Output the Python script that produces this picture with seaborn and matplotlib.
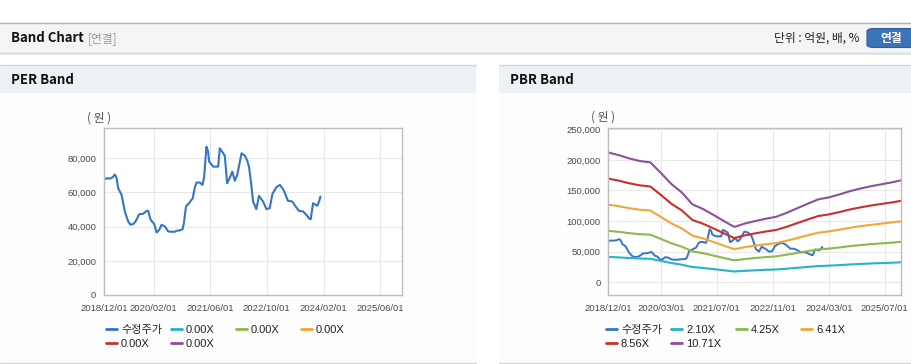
import matplotlib
matplotlib.use("Agg")
import matplotlib.pyplot as plt
import matplotlib.dates as mdates
from matplotlib.patches import Rectangle, FancyBboxPatch
from matplotlib.lines import Line2D
from matplotlib.ticker import FuncFormatter
import pandas as pd
import seaborn as sns

# ---------------- data ----------------
price_dates = [
    "2018-12-01", "2018-12-29", "2019-01-21", "2019-02-14", "2019-03-04", "2019-03-18",
    "2019-04-02", "2019-05-01", "2019-05-29", "2019-06-27", "2019-07-17", "2019-08-09",
    "2019-08-29", "2019-09-30", "2019-11-04", "2019-12-02", "2019-12-16", "2020-01-06",
    "2020-02-04", "2020-02-27", "2020-03-20", "2020-04-09", "2020-05-08", "2020-06-05",
    "2020-07-04", "2020-08-02", "2020-08-16", "2020-09-14", "2020-10-07", "2020-10-18",
    "2020-11-05", "2020-12-01", "2021-01-02", "2021-01-22", "2021-02-05", "2021-03-04",
    "2021-03-27", "2021-04-10", "2021-04-30", "2021-05-14", "2021-05-23", "2021-06-27",
    "2021-08-09", "2021-08-23", "2021-09-12", "2021-10-05", "2021-10-25", "2021-11-18",
    "2021-12-08", "2021-12-31", "2022-01-20", "2022-02-06", "2022-02-26", "2022-03-25",
    "2022-04-14", "2022-05-01", "2022-05-21", "2022-06-05", "2022-07-03", "2022-07-26",
    "2022-08-30", "2022-09-28", "2022-10-26", "2022-11-19", "2022-12-23", "2023-01-21",
    "2023-02-19", "2023-03-12", "2023-04-01", "2023-05-08", "2023-06-06", "2023-07-05",
    "2023-08-09", "2023-09-07", "2023-10-05", "2023-10-14", "2023-11-03", "2023-11-26",
    "2023-12-08", "2023-12-25", "2024-01-05",
]
price_values = [
    67700, 68300, 68100, 68900, 70500, 68900,
    62500, 58600, 48900, 43000, 41100, 41500,
    43000, 47300, 47500, 49200, 49200, 44000,
    41700, 36600, 38100, 41100, 40100, 37200,
    37000, 37000, 37600, 37800, 38500, 42000,
    51800, 53700, 56600, 63500, 65800, 65800,
    64400, 68900, 86800, 83900, 78100, 75100,
    75100, 85800, 83900, 81400, 65400, 68700,
    72200, 66800, 70300, 76100, 82900, 81600,
    79000, 75100, 64400, 54700, 50200, 58000,
    54700, 50200, 50800, 59200, 63100, 64400,
    61900, 58600, 55100, 54700, 51800, 49200,
    48900, 46900, 44400, 44400, 53700, 52700,
    52200, 54700, 57600,
]

band_dates = [
    "2018-12-01", "2019-03-01", "2019-06-01", "2019-09-01", "2019-12-01", "2020-03-01",
    "2020-06-01", "2020-09-01", "2020-12-01", "2021-03-01", "2021-06-01", "2021-09-01",
    "2021-12-01", "2022-03-01", "2022-06-01", "2022-09-01", "2022-12-01", "2023-03-01",
    "2023-06-01", "2023-09-01", "2023-12-01", "2024-03-01", "2024-06-01", "2024-09-01",
    "2024-12-01", "2025-03-01", "2025-06-01", "2025-09-01", "2025-12-01",
]
band_2_10 = [41600, 40700, 39700, 38900, 38400, 35100, 31500, 28800, 25000, 23500,
             21600, 19600, 17700, 18800, 19600, 20400, 21000, 22300, 23700, 25200,
             26600, 27200, 28100, 29200, 30000, 30800, 31400, 32000, 32800]
band_4_25 = [84200, 82500, 80300, 78600, 77800, 71000, 63800, 58200, 50600, 47600,
             43800, 39700, 35900, 38000, 39700, 41200, 42500, 45100, 48000, 51000,
             53800, 55000, 57000, 59100, 60800, 62300, 63500, 64800, 66300]
band_6_41 = [126900, 124400, 121100, 118600, 117300, 107000, 96200, 87800, 76300, 71800,
             66000, 59900, 54200, 57400, 59900, 62200, 64100, 67900, 72400, 76900,
             81100, 83000, 85900, 89100, 91700, 93900, 95800, 97800, 100000]
band_8_56 = [169500, 166100, 161800, 158400, 156600, 143000, 128400, 117300, 101900, 95900,
             88200, 80000, 72300, 76600, 80000, 83000, 85600, 90700, 96700, 102700,
             108300, 110900, 114700, 119000, 122400, 125400, 128000, 130500, 133500]
band_10_71 = [212100, 207800, 202400, 198100, 196000, 178900, 160700, 146700, 127400, 120000,
              110300, 100100, 90500, 95900, 100100, 103900, 107100, 113500, 121000, 128500,
              135500, 138700, 143500, 148900, 153200, 156900, 160100, 163300, 167100]

price_label = "수정주가"
per_band_labels = ["0.00X", "0.00X", "0.00X", "0.00X", "0.00X"]
pbr_band_labels = ["2.10X", "4.25X", "6.41X", "8.56X", "10.71X"]

per_xticks = ["2018-12-01", "2020-02-01", "2021-06-01", "2022-10-01", "2024-02-01", "2025-06-01"]
pbr_xticks = ["2018-12-01", "2020-03-01", "2021-07-01", "2022-11-01", "2024-03-01", "2025-07-01"]
per_yticks = [0, 20000, 40000, 60000, 80000]
pbr_yticks = [0, 50000, 100000, 150000, 200000, 250000]

# ---------------- style ----------------
price_color = "#3574c6"
band_colors = ["#22b4c8", "#8cb84c", "#f2a637", "#c9302c", "#8e4f9d"]

sns.set_style("white")
plt.rcParams["font.family"] = ["Liberation Sans", "Noto Sans CJK KR", "DejaVu Sans"]

W, H = 912, 364
fig = plt.figure(figsize=(W / 100, H / 100), dpi=100)
fig.patch.set_facecolor("white")


def fx(px):
    return px / W


def fy(py):
    return 1 - py / H


def rect(x0, y0, x1, y1, color, z=-5):
    fig.patches.append(Rectangle((fx(x0), fy(y1)), (x1 - x0) / W, (y1 - y0) / H,
                                 transform=fig.transFigure, facecolor=color,
                                 edgecolor="none", zorder=z))


def hline(x0, x1, y, color, lw=1.0):
    fig.lines.append(Line2D([fx(x0), fx(x1)], [fy(y), fy(y)], transform=fig.transFigure,
                            color=color, lw=lw, zorder=-4))


# header bar
rect(0, 22.5, W, 52.5, "#f4f4f4")
hline(0, W, 22.5, "#b4b4b4")
hline(0, W, 52.8, "#c4c4c4")
hline(0, W, 54.0, "#e4e4e4", lw=1.2)

fig.text(fx(11), fy(38), "Band Chart", fontsize=9.5, fontweight="bold",
         family=["Noto Sans CJK KR"], color="#111111", va="center", ha="left")
fig.text(fx(88), fy(38.5), "[연결]", fontsize=8.5, family=["Noto Sans CJK KR"],
         color="#9a9a9a", va="center", ha="left")
fig.text(fx(860), fy(38.5), "단위 : 억원, 배, %", fontsize=8.5, family=["Noto Sans CJK KR"],
         color="#222222", va="center", ha="right")
fig.patches.append(FancyBboxPatch((fx(867), fy(47.5)), 60 / W, 19 / H,
                                  boxstyle="round,pad=0,rounding_size=0.008",
                                  transform=fig.transFigure, facecolor="#3a74b6",
                                  edgecolor="#2e5f98", lw=0.8, zorder=1))
fig.text(fx(891), fy(38.5), "연결", fontsize=8.5, fontweight="bold",
         family=["Noto Sans CJK KR"], color="white", va="center", ha="center", zorder=3)

# panel headers
for (x0, x1, title) in [(0, 476, "PER Band"), (499, W, "PBR Band")]:
    rect(x0, 64.5, x1, 92.5, "#eef1f6")
    rect(x0, 92.5, x1, 363, "#fdfdfd")
    hline(x0, x1, 64.5, "#d2d5da")
    hline(x0, x1, 363.3, "#d6d6d6")
    fig.text(fx(x0 + 11), fy(80), title, fontsize=9.5, fontweight="bold",
             family=["Noto Sans CJK KR"], color="#111111", va="center", ha="left")

# ---------------- data frames ----------------
price_df = pd.DataFrame({"date": pd.to_datetime(price_dates), "value": price_values})
band_series = [band_2_10, band_4_25, band_6_41, band_8_56, band_10_71]
band_df = pd.concat([
    pd.DataFrame({"date": pd.to_datetime(band_dates), "value": vals, "band": lab})
    for vals, lab in zip(band_series, pbr_band_labels)
], ignore_index=True)

tick_color = "#4a4a4a"
tick_fs = 6.8


def style_axes(ax, xticks, yticks, ylim, xlim_right):
    ax.set_facecolor("white")
    ax.set_xlim(mdates.date2num(pd.Timestamp("2018-12-01")),
                mdates.date2num(pd.Timestamp(xlim_right)))
    ax.set_ylim(*ylim)
    ax.set_xticks([mdates.date2num(pd.Timestamp(t)) for t in xticks])
    ax.set_xticklabels([t.replace("-", "/") for t in xticks])
    ax.set_yticks(yticks)
    ax.yaxis.set_major_formatter(FuncFormatter(lambda v, p: f"{int(v):,}"))
    ax.grid(True, color="#e8e8e8", lw=0.8)
    ax.set_axisbelow(True)
    for s in ax.spines.values():
        s.set_color("#bdbdbd")
        s.set_linewidth(1.0)
        s.set_visible(True)
    ax.tick_params(axis="both", which="major", length=3, width=0.8, color="#b5b5b5",
                   labelsize=tick_fs, labelcolor=tick_color, direction="out", pad=2.5)
    ax.tick_params(axis="x", pad=3.5)
    ax.set_xlabel("")
    ax.set_ylabel("")


def legend_entry(handle_color, label, x, y):
    h = Line2D([], [], color=handle_color, lw=2.0)
    lg = fig.legend([h], [label], loc="center left", bbox_to_anchor=(fx(x), fy(y)),
                    frameon=False, fontsize=8, handlelength=1.0, handletextpad=0.35,
                    borderpad=0, borderaxespad=0)
    for t in lg.get_texts():
        t.set_color("#222222")


# ---------------- PER chart ----------------
ax1 = fig.add_axes([fx(104), fy(295), (402 - 104) / W, (295 - 128) / H])
sns.lineplot(data=price_df, x="date", y="value", color=price_color, lw=1.5, ax=ax1)
style_axes(ax1, per_xticks, per_yticks, (0, 97700), "2025-12-07")
fig.text(fx(99), fy(118), "( 원 )", fontsize=8.5, family=["Noto Sans CJK KR"],
         color="#555555", va="center", ha="center")

per_entries = [(price_color, price_label)] + list(zip(band_colors, per_band_labels))
per_pos = [(106, 330), (171, 330), (236, 330), (301, 330), (106, 344), (171, 344)]
for (c, lab), (x, y) in zip(per_entries, per_pos):
    legend_entry(c, lab, x, y)

# ---------------- PBR chart ----------------
ax2 = fig.add_axes([fx(608.3), fy(295.3), (901.3 - 608.3) / W, (295.3 - 128.3) / H])
sns.lineplot(data=price_df, x="date", y="value", color=price_color, lw=1.4, ax=ax2)
sns.lineplot(data=band_df, x="date", y="value", hue="band", hue_order=pbr_band_labels,
             palette=band_colors, lw=1.5, legend=False, ax=ax2)
style_axes(ax2, pbr_xticks, pbr_yticks, (-21200, 251600), "2025-11-22")
fig.text(fx(603), fy(117), "( 원 )", fontsize=8.5, family=["Noto Sans CJK KR"],
         color="#555555", va="center", ha="center")

pbr_entries = [(price_color, price_label)] + list(zip(band_colors, pbr_band_labels))
pbr_pos = [(606, 330), (671, 330), (736, 330), (801, 330), (606, 344), (671, 344)]
for (c, lab), (x, y) in zip(pbr_entries, pbr_pos):
    legend_entry(c, lab, x, y)

fig.savefig("out.png", dpi=100)
